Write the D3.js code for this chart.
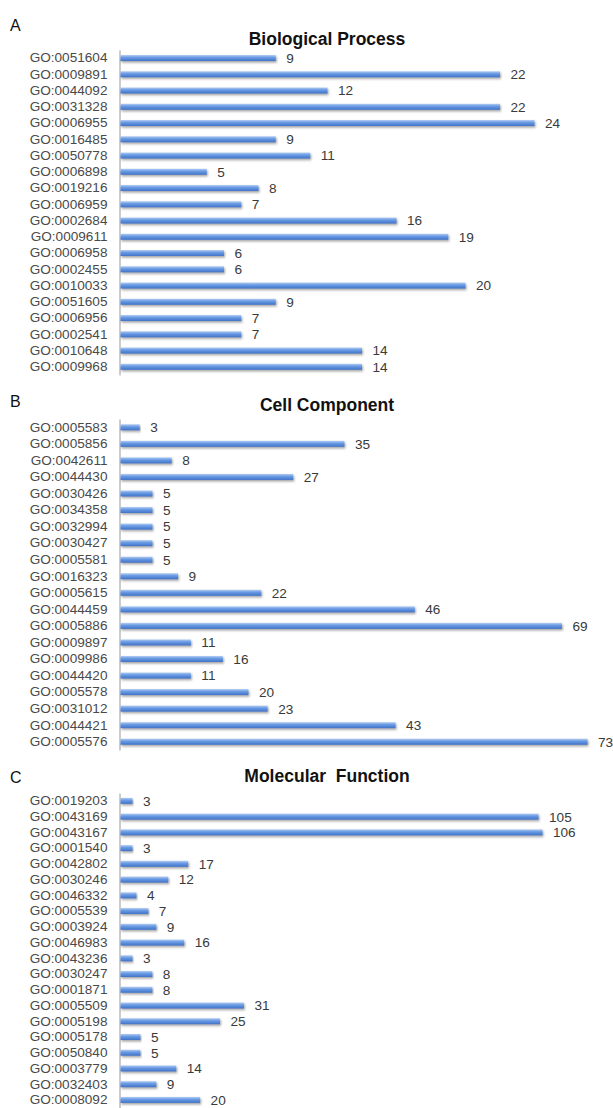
<!DOCTYPE html>
<html>
<head>
<meta charset="utf-8">
<script src="https://cdn.jsdelivr.net/npm/d3@7"></script>
<style>
  html, body { margin: 0; padding: 0; background: #fff; }
  svg { display: block; font-family: "Liberation Sans", Arial, sans-serif; }
  .lbl { font-size: 13.6px; fill: #4a4a4a; }
  .val { font-size: 13.6px; fill: #3a3a3a; }
  .title { font-size: 17.5px; font-weight: bold; fill: #111; }
  .letter { font-size: 16px; fill: #111; }
</style>
</head>
<body>
<svg id="chart" width="613" height="1108"></svg>
<script>
// Biological Process
var bpTerms = ['GO:0051604','GO:0009891','GO:0044092','GO:0031328','GO:0006955','GO:0016485','GO:0050778','GO:0006898','GO:0019216','GO:0006959',
               'GO:0002684','GO:0009611','GO:0006958','GO:0002455','GO:0010033','GO:0051605','GO:0006956','GO:0002541','GO:0010648','GO:0009968'];
var bpCounts = [9,22,12,22,24,9,11,5,8,7,16,19,6,6,20,9,7,7,14,14];

// Cell Component
var ccTerms = ['GO:0005583','GO:0005856','GO:0042611','GO:0044430','GO:0030426','GO:0034358','GO:0032994','GO:0030427','GO:0005581','GO:0016323',
               'GO:0005615','GO:0044459','GO:0005886','GO:0009897','GO:0009986','GO:0044420','GO:0005578','GO:0031012','GO:0044421','GO:0005576'];
var ccCounts = [3,35,8,27,5,5,5,5,5,9,22,46,69,11,16,11,20,23,43,73];

// Molecular Function
var mfTerms = ['GO:0019203','GO:0043169','GO:0043167','GO:0001540','GO:0042802','GO:0030246','GO:0046332','GO:0005539','GO:0003924','GO:0046983',
               'GO:0043236','GO:0030247','GO:0001871','GO:0005509','GO:0005198','GO:0005178','GO:0050840','GO:0003779','GO:0032403','GO:0008092'];
var mfCounts = [3,105,106,3,17,12,4,7,9,16,3,8,8,31,25,5,5,14,9,20];

var panels = [
  {letter:'A', title:'Biological Process', terms:bpTerms, counts:bpCounts,
   xmax:24, xend:534, y0:49.9, step:16.25, letterY:31, titleY:45},
  {letter:'B', title:'Cell Component', terms:ccTerms, counts:ccCounts,
   xmax:73, xend:587, y0:419, step:16.55, letterY:407, titleY:411},
  {letter:'C', title:'Molecular  Function', terms:mfTerms, counts:mfCounts,
   xmax:106, xend:542, y0:793, step:15.74, letterY:783, titleY:782}
];

var svg = d3.select('#chart');
var defs = svg.append('defs');

var grad = defs.append('linearGradient').attr('id','barGrad')
  .attr('x1',0).attr('y1',0).attr('x2',0).attr('y2',1);
grad.append('stop').attr('offset','0%').attr('stop-color','#b3cdf2');
grad.append('stop').attr('offset','40%').attr('stop-color','#6a9be4');
grad.append('stop').attr('offset','100%').attr('stop-color','#3f73c8');

var shadow = defs.append('filter').attr('id','shadow')
  .attr('x','-5%').attr('y','-60%').attr('width','110%').attr('height','260%');
shadow.append('feDropShadow').attr('dx',1).attr('dy',1.6)
  .attr('stdDeviation',0.9).attr('flood-color','#555').attr('flood-opacity',0.55);

var x0 = 120;
var barH = 6;

panels.forEach(function(p){
  var g = svg.append('g');

  var x = d3.scaleLinear().domain([0, p.xmax]).range([x0, p.xend]);
  var y = d3.scaleBand().domain(p.terms)
    .range([p.y0, p.y0 + p.step * p.terms.length]).padding(0);

  g.append('text').attr('class','letter').attr('x',10).attr('y',p.letterY).text(p.letter);
  g.append('text').attr('class','title').attr('x',327).attr('y',p.titleY)
    .attr('text-anchor','middle').attr('xml:space','preserve').text(p.title);

  var axis = g.append('g').attr('transform','translate(' + (x0 - 0.5) + ',0)')
    .call(d3.axisLeft(y).tickSize(0).tickPadding(12));
  axis.select('.domain').attr('stroke','#9a9a9a').attr('stroke-width',1);
  axis.selectAll('text').attr('class','lbl').attr('fill',null)
    .style('font-family',null).style('font-size',null);
  axis.attr('font-family',null).attr('font-size',null);

  var rows = g.selectAll('.row').data(p.terms.map(function(t,i){ return {term:t, v:p.counts[i]}; }))
    .enter().append('g').attr('class','row');

  rows.append('rect')
    .attr('x', x0 + 0.5)
    .attr('y', function(d){ return y(d.term) + y.bandwidth()/2 - barH/2; })
    .attr('width', function(d){ return x(d.v) - x0; })
    .attr('height', barH)
    .attr('fill','url(#barGrad)')
    .attr('filter','url(#shadow)');

  rows.append('text').attr('class','val')
    .attr('x', function(d){ return x(d.v) + 11; })
    .attr('y', function(d){ return y(d.term) + y.bandwidth()/2; })
    .attr('dy','0.36em')
    .text(function(d){ return d.v; });
});
</script>
</body>
</html>
